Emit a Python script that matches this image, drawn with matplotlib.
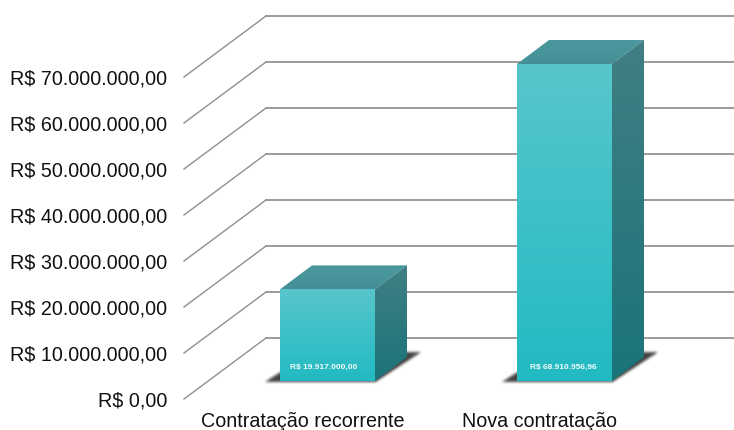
import numpy as np
import matplotlib
matplotlib.use("Agg")
import matplotlib.pyplot as plt
from matplotlib.colors import to_rgb
from matplotlib.patches import Polygon
from matplotlib.path import Path

categories = ["Contratação recorrente", "Nova contratação"]
values = [19917000.00, 68910956.96]
value_labels = ["R$ 19.917.000,00", "R$ 68.910.956,96"]
tick_values = [0, 10e6, 20e6, 30e6, 40e6, 50e6, 60e6, 70e6]
tick_labels = ["R$ 0,00", "R$ 10.000.000,00", "R$ 20.000.000,00", "R$ 30.000.000,00",
               "R$ 40.000.000,00", "R$ 50.000.000,00", "R$ 60.000.000,00", "R$ 70.000.000,00"]

W, H, Y0 = 734, 430, 399
K = 4.6e-6  # pixels per currency unit
U = 1 / K   # currency units per pixel

fig = plt.figure(figsize=(W / 100, H / 100), dpi=100, facecolor="white")
ax = fig.add_axes([186 / W, (H - Y0) / H, 1 - 186 / W, Y0 / H])
ax.set_xlim(186, W)
ax.set_ylim(0, Y0 * U)
for s in ax.spines.values():
    s.set_visible(False)
ax.patch.set_alpha(0)

FONT = "Liberation Sans"
ax.set_yticks(tick_values)
ax.set_yticklabels(tick_labels, fontname=FONT, fontsize=14.25, color="#111111")
ax.tick_params(axis="y", length=0, pad=13.5)
label_x = [302.5, 540]
ax.set_xticks(label_x)
ax.set_xticklabels(categories, fontname=FONT, fontsize=14.25, color="#111111")
ax.tick_params(axis="x", length=0, pad=9.5)

# walls
for v in tick_values:
    ax.plot([184, 266], [v, v + 61 * U], color="#8f8f8f", lw=1.0, clip_on=False, zorder=1)
    ax.plot([266, W], [v + 61 * U, v + 61 * U], color="#8a8a8a", lw=1.2, clip_on=False, zorder=1)


def gradient(pts, top, bottom, zorder=4):
    pts = np.array(pts, float)
    c0, c1 = np.array(to_rgb(top)), np.array(to_rgb(bottom))
    t = np.linspace(0, 1, 128)[:, None, None]
    img = c0[None, None, :] * (1 - t) + c1[None, None, :] * t
    im = ax.imshow(img, extent=[pts[:, 0].min(), pts[:, 0].max(), pts[:, 1].min(), pts[:, 1].max()],
                   origin="upper", aspect="auto", zorder=zorder, interpolation="bilinear")
    clip = Polygon(pts, closed=True, transform=ax.transData)
    im.set_clip_path(clip)


def soft_shadow(poly_px, base, darkness=0.85, passes=3, radius=1):
    """poly_px: (x, pixels above bar base); drawn as a blurred RGBA image."""
    poly = np.array(poly_px, float)
    x0, x1 = poly[:, 0].min() - 8, poly[:, 0].max() + 8
    y0, y1 = poly[:, 1].min() - 8, poly[:, 1].max() + 8
    nx, ny = int((x1 - x0) * 2), int((y1 - y0) * 2)
    gx, gy = np.meshgrid(np.linspace(x0, x1, nx), np.linspace(y0, y1, ny))
    m = Path(poly).contains_points(np.c_[gx.ravel(), gy.ravel()]).reshape(gx.shape).astype(float)
    kern = np.ones(4 * radius + 1)
    kern /= kern.sum()
    for _ in range(passes):
        m = np.apply_along_axis(lambda a: np.convolve(a, kern, mode="same"), 0, m)
        m = np.apply_along_axis(lambda a: np.convolve(a, kern, mode="same"), 1, m)
    rgba = np.zeros(m.shape + (4,))
    rgba[..., :3] = 0.13
    rgba[..., 3] = m * darkness
    ax.imshow(rgba, extent=[x0, x1, base + y0 * U, base + y1 * U], origin="lower", aspect="auto",
              zorder=3, interpolation="bilinear", clip_on=False)


centers = [327.5, 564.5]
text_shift = [-4, -1]
BW, DX, DY, BASE = 95, 32, 24, 18
for cx, v, lab, ts in zip(centers, values, value_labels, text_shift):
    l, r = cx - BW / 2, cx + BW / 2
    b = BASE * U
    t = b + v
    d = DY * U
    soft_shadow([(l - 15, -1.5), (r + 1, -1.5), (r + 46, 28), (r + 30, 28), (r, 8), (l, 8)], b)
    gradient([(l, t), (r, t), (r + DX, t + d), (l + DX, t + d)], "#4a999f", "#448f95")
    gradient([(r, b), (r, t), (r + DX, t + d), (r + DX, b + d)], "#417f83", "#1a747a")
    gradient([(l, b), (r, b), (r, t), (l, t)], "#57c6cc", "#22bac2")
    ax.text(cx + ts, b + 14 * U, lab, color="#f4fbfb", fontsize=6.0, fontweight="bold",
            family="Liberation Sans", ha="center", va="center", zorder=6)

ax.set_xlim(186, W)
ax.set_ylim(0, Y0 * U)
fig.savefig("out.png", dpi=100, facecolor="white")
